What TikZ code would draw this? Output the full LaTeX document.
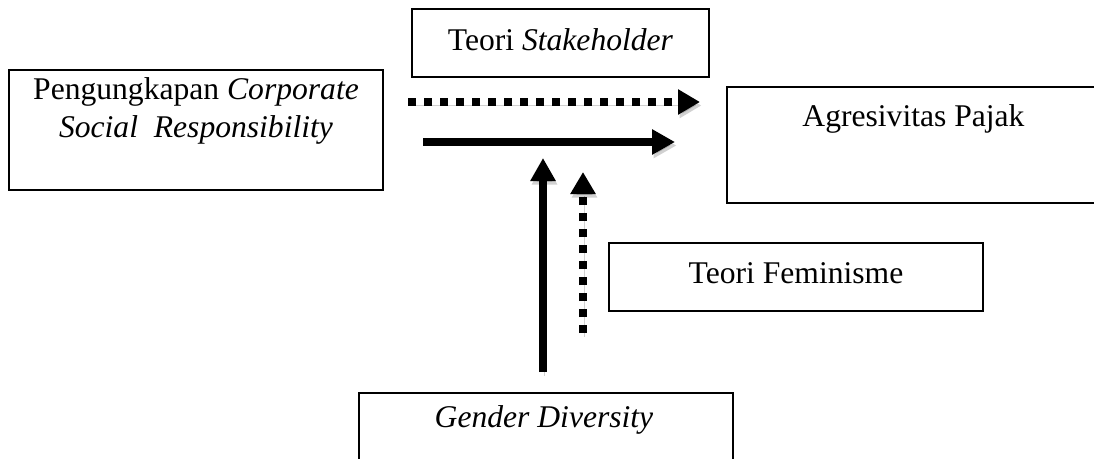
\documentclass[tikz,border=0pt]{standalone}
\usepackage{fontspec}
\setmainfont{Liberation Serif}
\usetikzlibrary{arrows.meta}
\begin{document}
\begin{tikzpicture}[x=1pt,y=-1pt,
  box/.style={draw=black,line width=1.2pt,fill=white},
  lbl/.style={anchor=base,inner sep=0pt,align=center,font=\fontsize{31.6}{38}\selectfont},
  shade/.style={preaction={draw=black,opacity=0.18,transform canvas={shift={(1.5,3.5)}}}},
  solidarrow/.style={line width=8pt,-{Triangle[length=23pt,width=24pt]},shade},
  dotarrow/.style={line width=8pt,dash pattern=on 8pt off 8pt,-{Triangle[length=22pt,width=24pt]},shade}]
\useasboundingbox (0,0) rectangle (1094,458);
\clip (0,0) rectangle (1094,458);
% boxes
\node[box,minimum width=374pt,minimum height=120pt,inner sep=0pt] (csr) at (196,130) {};
\node[lbl] (csrt) at (196,137) {Pengungkapan \textit{Corporate}\\\textit{Social\ \ Responsibility}};
\node[box,minimum width=297pt,minimum height=68pt,inner sep=0pt] (stk) at (560.5,43) {};
\node[lbl] (stkt) at (560.5,50) {Teori \textit{Stakeholder}};
\node[box,minimum width=380pt,minimum height=116pt,inner sep=0pt] (agr) at (917,145) {};
\node[lbl] (agrt) at (913.5,126) {Agresivitas Pajak};
\node[box,minimum width=374pt,minimum height=68pt,inner sep=0pt] (fem) at (796,277) {};
\node[lbl] (femt) at (796,283) {Teori Feminisme};
\node[box,minimum width=374pt,minimum height=80pt,inner sep=0pt] (gen) at (546,433) {};
\node[lbl] (gent) at (544,427) {\textit{Gender Diversity}};
% arrow end points
\coordinate (h1s) at (408,102);
\coordinate (h1e) at (700,102);
\coordinate (h2s) at (423,142);
\coordinate (h2e) at (675,142);
\coordinate (v1s) at (543,372);
\coordinate (v1e) at (543,158);
\coordinate (v2s) at (583,333);
\coordinate (v2e) at (583,172);
\draw[dotarrow] (h1s) -- (h1e);
\draw[solidarrow] (h2s) -- (h2e);
\draw[solidarrow,line width=7.5pt] (v1s) -- (v1e);
\draw[dotarrow,line width=7.5pt] (v2s) -- (v2e);
\end{tikzpicture}
\end{document}
